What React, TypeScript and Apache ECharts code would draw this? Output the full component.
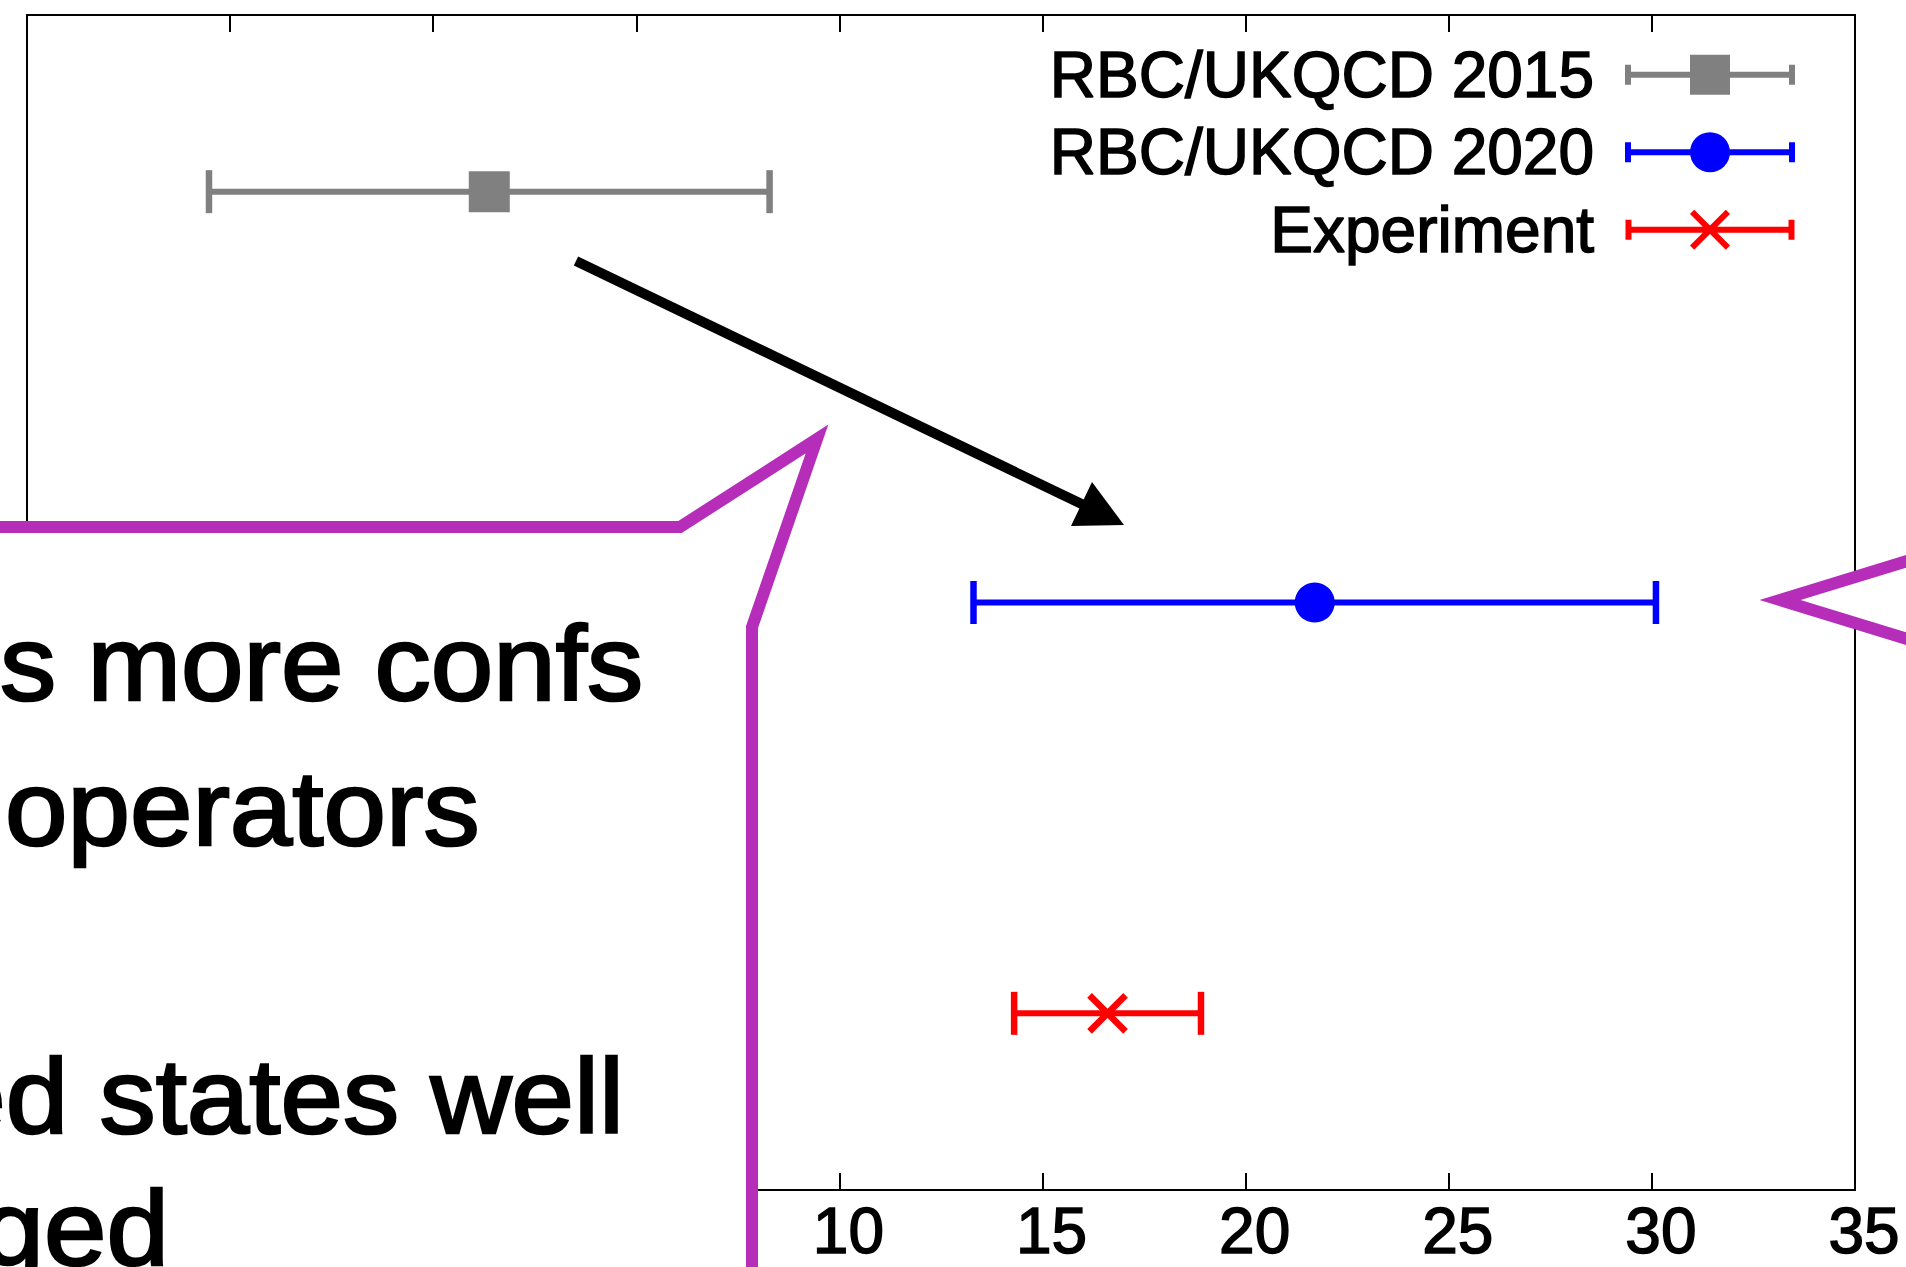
import React, { useEffect, useRef } from 'react';
import * as echarts from 'echarts';

// ---- data ----
const seriesNames = ['RBC/UKQCD 2015', 'RBC/UKQCD 2020', 'Experiment'];
const rowPositions = [3, 2, 1];
const centralValues = [1.38, 21.7, 16.6];
const totalErrors = [6.9, 8.4, 2.3];
const seriesColors = ['#808080', '#0000FF', '#FF0000'];
const markerKinds = ['square', 'circle', 'cross'];
const xMin = -10;
const xMax = 35;
const xStep = 5;
const yMin = 0.57;
const yMax = 3.43;
const calloutLines = ['s more confs', 'operators', 'ed states well', 'ged'];

// ---- styles ----
const FONT = 'Liberation Sans';
const PURPLE = '#B52DB8';

const barPath = 'M0,17H170V23H0Z M0,10H6V30H0Z M164,10H170V30H164Z ';
const legendIcons = [
  'path://' + barPath + 'M65,0H105V40H65Z',
  'path://' + barPath + 'M65,20A20,20 0 1,1 105,20A20,20 0 1,1 65,20Z',
  'path://' + barPath +
    'M69.12,-0.12L105.12,35.88L100.88,40.12L64.88,4.12Z ' +
    'M105.12,4.12L69.12,40.12L64.88,35.88L100.88,-0.12Z',
];

function makeRenderItem(idx: number) {
  return (params: any, api: any) => {
    const c = api.value(0);
    const y = api.value(1);
    const e = api.value(2);
    const p = api.coord([c, y]);
    const lo = api.coord([c - e, y]);
    const hi = api.coord([c + e, y]);
    const color = seriesColors[idx];
    const capH = 43;
    const children: any[] = [
      { type: 'line', shape: { x1: lo[0], y1: p[1], x2: hi[0], y2: p[1] }, style: { stroke: color, lineWidth: 6 } },
      { type: 'line', shape: { x1: lo[0], y1: p[1] - capH / 2, x2: lo[0], y2: p[1] + capH / 2 }, style: { stroke: color, lineWidth: 6.5 } },
      { type: 'line', shape: { x1: hi[0], y1: p[1] - capH / 2, x2: hi[0], y2: p[1] + capH / 2 }, style: { stroke: color, lineWidth: 6.5 } },
    ];
    const kind = markerKinds[idx];
    if (kind === 'square') {
      children.push({ type: 'rect', shape: { x: p[0] - 20.5, y: p[1] - 20.5, width: 41, height: 41 }, style: { fill: color } });
    } else if (kind === 'circle') {
      children.push({ type: 'circle', shape: { cx: p[0], cy: p[1], r: 20 }, style: { fill: color } });
    } else {
      children.push({ type: 'line', shape: { x1: p[0] - 18, y1: p[1] - 18, x2: p[0] + 18, y2: p[1] + 18 }, style: { stroke: color, lineWidth: 6.5 } });
      children.push({ type: 'line', shape: { x1: p[0] - 18, y1: p[1] + 18, x2: p[0] + 18, y2: p[1] - 18 }, style: { stroke: color, lineWidth: 6.5 } });
    }
    return { type: 'group', children };
  };
}

export default function App() {
  const ref = useRef<HTMLDivElement>(null);
  useEffect(() => {
    if (!ref.current) return;
    const chart = echarts.init(ref.current, undefined, { renderer: 'svg' });
    const textScale = 1.06;
    const fs = 106;
    const mid = (baseline: number) => baseline - 0.3465 * fs;
    const calloutStyle = {
      fontSize: fs, fontFamily: FONT, fill: '#000', verticalAlign: 'middle',
      stroke: '#000', lineWidth: 2.5,
    };
    const option: any = {
      animation: false,
      backgroundColor: '#fff',
      grid: { left: 27, right: 51, top: 15, bottom: 77, show: true, borderColor: '#000', borderWidth: 2, backgroundColor: 'transparent' },
      xAxis: [
        {
          type: 'value', min: xMin, max: xMax, interval: xStep, position: 'bottom',
          axisLine: { show: true, lineStyle: { color: '#000', width: 2 } },
          axisTick: { show: true, inside: true, length: 17, lineStyle: { color: '#000', width: 2 } },
          splitLine: { show: false },
          axisLabel: {
            show: true, color: '#000', fontFamily: FONT, fontSize: 64, lineHeight: 50, margin: 16,
            textBorderColor: '#000', textBorderWidth: 1.5,
            padding: [0, 0, 0, 18], showMinLabel: true, showMaxLabel: true,
            formatter: (v: number) => (v >= 10 ? String(v) : ''),
          },
        },
        {
          type: 'value', min: xMin, max: xMax, interval: xStep, position: 'top',
          axisLine: { show: false },
          axisTick: { show: true, inside: true, length: 17, lineStyle: { color: '#000', width: 2 } },
          splitLine: { show: false },
          axisLabel: { show: false },
        },
      ],
      yAxis: { type: 'value', min: yMin, max: yMax, show: false },
      legend: {
        orient: 'vertical',
        right: 106,
        top: 37,
        align: 'right',
        itemWidth: 170,
        itemHeight: 40,
        itemGap: 12,
        selectedMode: false,
        itemStyle: { borderWidth: 0 },
        textStyle: {
          fontSize: 64, fontFamily: FONT, color: '#000', padding: [0, 26, 0, 0],
          textBorderColor: '#000', textBorderWidth: 1.5,
        },
        data: seriesNames.map((n, i) => ({ name: n, icon: legendIcons[i] })),
      },
      series: seriesNames.map((name, i) => ({
        type: 'custom',
        name,
        xAxisIndex: 0,
        yAxisIndex: 0,
        itemStyle: { color: seriesColors[i] },
        encode: { x: 0, y: 1 },
        renderItem: makeRenderItem(i),
        data: [[centralValues[i], rowPositions[i], totalErrors[i]]],
        z: 3,
      })),
      graphic: [
        {
          type: 'line', z: 100, shape: { x1: 576, y1: 261, x2: 1090, y2: 508 },
          style: { stroke: '#000', lineWidth: 10 },
        },
        {
          type: 'polygon', z: 100, shape: { points: [[1124, 525], [1092, 482], [1071, 526]] },
          style: { fill: '#000' },
        },
        {
          type: 'polygon', z: 100,
          shape: { points: [[-30, 527], [680, 527], [817, 439], [752, 627], [752, 1300], [-30, 1300]] },
          style: { fill: '#fff', stroke: PURPLE, lineWidth: 12, lineJoin: 'miter', miterLimit: 10 },
        },
        {
          type: 'polygon', z: 100,
          shape: { points: [[1780, 600], [1930, 554], [1930, 646]] },
          style: { fill: '#fff', stroke: PURPLE, lineWidth: 12, lineJoin: 'miter', miterLimit: 10 },
        },
        {
          type: 'text', z: 101, x: 0, y: mid(700), scaleX: textScale,
          style: { ...calloutStyle, text: calloutLines[0], align: 'left' },
        },
        {
          type: 'text', z: 101, x: 5, y: mid(845), scaleX: textScale,
          style: { ...calloutStyle, text: calloutLines[1], align: 'left' },
        },
        {
          type: 'text', z: 101, x: 624, y: mid(1133), scaleX: textScale,
          style: { ...calloutStyle, text: calloutLines[2], align: 'right' },
        },
        {
          type: 'text', z: 101, x: 169, y: mid(1265), scaleX: textScale,
          style: { ...calloutStyle, text: calloutLines[3], align: 'right' },
        },
      ],
    };
    chart.setOption(option);
    return () => chart.dispose();
  }, []);
  return (
    <div
      ref={ref}
      style={{ position: 'fixed', left: 0, top: 0, width: 1906, height: 1267, background: '#fff' }}
    />
  );
}
